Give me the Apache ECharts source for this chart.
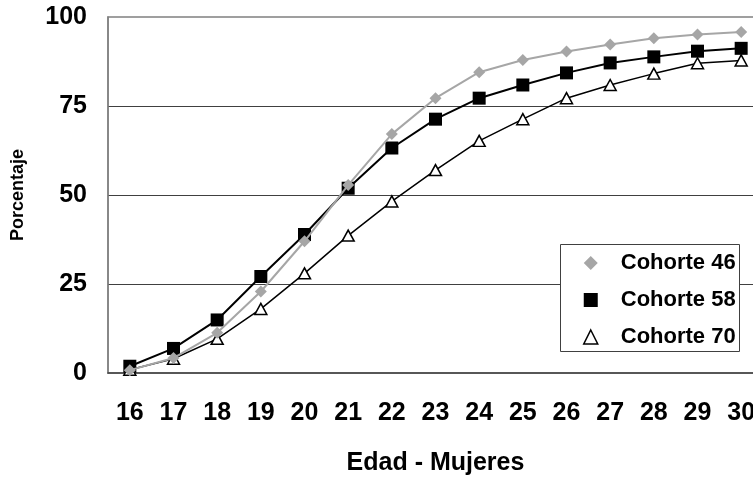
<!DOCTYPE html>
<html><head><meta charset="utf-8">
<script src="https://cdn.jsdelivr.net/npm/echarts@6/dist/echarts.min.js"></script>
<style>html,body{margin:0;padding:0;background:#fff}#c{width:753px;height:477px}</style>
</head><body><div id="c"></div>
<script>
const ages = ['16','17','18','19','20','21','22','23','24','25','26','27','28','29','30'];
const cohorte46 = [0.8, 4.2, 11.3, 22.9, 37, 52.8, 67.1, 77.2, 84.5, 87.9, 90.3, 92.3, 94, 95.1, 95.8];
const cohorte58 = [1.9, 6.9, 14.9, 27.1, 38.9, 51.9, 63.2, 71.3, 77.2, 80.9, 84.3, 87.1, 88.8, 90.4, 91.2];
const cohorte70 = [0.9, 4.0, 9.6, 18.0, 28.0, 38.6, 48.2, 57.0, 65.2, 71.3, 77.2, 80.9, 84.1, 87.0, 87.8];
const yTicks = [0, 25, 50, 75, 100];

const FONT = 'Liberation Sans, Arial, sans-serif';
const chart = echarts.init(document.getElementById('c'), null, {renderer: 'canvas'});
chart.setOption({
  animation: false,
  backgroundColor: '#fff',
  grid: {left: 108, top: 17, width: 655, height: 356, show: true, borderColor: '#808080', borderWidth: 1.5,
         backgroundColor: 'transparent', containLabel: false, outerBoundsMode: 'none'},
  graphic: [{
    type: 'rect', left: 560, top: 244, z: 5,
    shape: {width: 179, height: 107},
    style: {fill: '#fff', stroke: '#404040', lineWidth: 1}
  }],
  xAxis: {
    type: 'category', data: ages, boundaryGap: true,
    axisLine: {show: true, lineStyle: {color: '#404040', width: 1.5}},
    axisTick: {show: false},
    axisLabel: {color: '#000', fontFamily: FONT, fontWeight: 'bold', fontSize: 25, margin: 28},
    name: 'Edad - Mujeres', nameLocation: 'middle', nameGap: 78,
    nameTextStyle: {color: '#000', fontFamily: FONT, fontWeight: 'bold', fontSize: 25}
  },
  yAxis: {
    type: 'value', min: yTicks[0], max: yTicks[yTicks.length - 1], interval: 25,
    axisLine: {show: true, lineStyle: {color: '#808080', width: 1.5}},
    axisTick: {show: false},
    splitLine: {show: true, showMinLine: false, showMaxLine: false, lineStyle: {color: '#404040', width: 1}},
    axisLabel: {color: '#000', fontFamily: FONT, fontWeight: 'bold', fontSize: 25, margin: 21},
    name: 'Porcentaje', nameLocation: 'middle', nameGap: 81, nameRotate: 90,
    nameTextStyle: {color: '#000', fontFamily: FONT, fontWeight: 'bold', fontSize: 18}
  },
  legend: {
    orient: 'vertical', left: 583, top: 252, z: 6,
    padding: 0,
    itemWidth: 14, itemHeight: 14, itemGap: 15,
    textStyle: {color: '#000', fontFamily: FONT, fontWeight: 'bold', fontSize: 22, padding: [0, 0, 0, 18]},
    data: [
      {name: 'Cohorte 46', icon: 'diamond', itemStyle: {color: '#a6a6a6', borderWidth: 0}},
      {name: 'Cohorte 58', icon: 'rect', itemStyle: {color: '#000', borderWidth: 0}},
      {name: 'Cohorte 70', icon: 'triangle', itemStyle: {color: '#fff', borderColor: '#000', borderWidth: 1.5}}
    ]
  },
  series: [
    {name: 'Cohorte 70', type: 'line', data: cohorte70, symbol: 'triangle', symbolSize: [12, 11],
     lineStyle: {color: '#000', width: 1.5}, itemStyle: {color: '#fff', borderColor: '#000', borderWidth: 1.5}, z: 2},
    {name: 'Cohorte 58', type: 'line', data: cohorte58, symbol: 'rect', symbolSize: 13,
     lineStyle: {color: '#000', width: 2}, itemStyle: {color: '#000', borderWidth: 0}, z: 3},
    {name: 'Cohorte 46', type: 'line', data: cohorte46, symbol: 'diamond', symbolSize: 12,
     lineStyle: {color: '#a6a6a6', width: 2}, itemStyle: {color: '#a6a6a6', borderWidth: 0}, z: 4}
  ]
});
</script></body></html>
